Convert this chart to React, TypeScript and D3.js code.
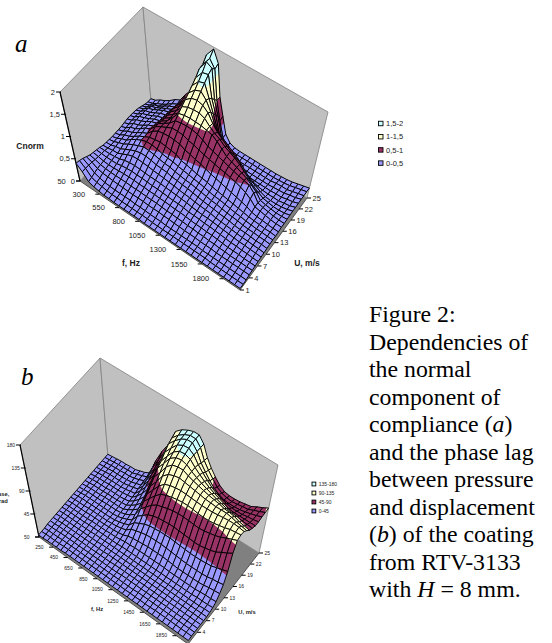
import * as d3 from "d3";
import React from "react";

// grid of both surfaces
const freqs = d3.range(50, 2000, 62.5);
const speeds = d3.range(1, 26);
const uTicks = [1, 4, 7, 10, 13, 16, 19, 22, 25];

// Cnorm x 100, one row per U (1..25), one value per f
const cnormRows = [
  [40,28,13,9,7,5,5,4,4,4,4,4,4,3,3,3,3,3,3,3,3,3,3,3,3,3,3,3,3,3,3,3],
  [38,28,15,11,9,7,6,6,5,5,5,5,5,5,4,4,4,4,4,4,4,4,4,4,4,3,3,3,3,3,3,3],
  [35,27,17,13,10,9,8,8,8,8,7,7,7,6,6,6,5,5,5,5,5,5,5,4,4,4,4,4,4,4,4,4],
  [31,26,19,16,15,14,13,13,12,12,12,12,11,11,11,10,10,9,9,8,8,8,7,7,7,6,6,6,6,6,6,6],
  [27,24,20,18,17,17,17,17,16,16,16,15,15,15,14,13,13,12,12,11,11,10,10,9,9,8,8,7,7,7,7,7],
  [25,23,20,19,19,20,21,21,21,20,20,19,19,18,18,17,16,16,15,14,13,13,12,12,11,10,9,9,9,8,8,8],
  [23,22,21,21,21,24,25,26,25,25,24,23,23,22,21,20,20,19,17,17,16,15,15,14,13,12,11,11,10,10,9,9],
  [21,21,21,22,24,28,30,31,30,29,28,28,27,26,25,24,23,22,20,19,18,18,17,16,15,14,13,12,12,11,11,10],
  [18,19,21,22,27,33,37,38,37,36,34,33,32,30,29,27,26,25,23,22,21,20,18,17,16,15,14,13,13,12,12,11],
  [17,18,22,24,30,36,41,44,44,42,39,38,37,34,33,31,30,28,26,24,23,22,20,19,18,16,15,15,14,13,13,12],
  [16,18,23,27,34,40,45,50,49,47,44,42,41,38,36,34,33,31,29,27,25,24,22,20,19,18,16,15,15,14,14,13],
  [15,18,24,28,37,44,50,54,54,52,48,46,45,42,40,38,36,34,32,29,27,26,24,22,20,19,17,16,15,15,14,14],
  [15,18,25,29,36,44,50,56,58,60,58,56,54,47,45,42,39,37,35,32,30,28,26,24,22,20,18,17,16,15,15,14],
  [15,19,26,30,37,44,50,62,70,72,73,72,70,64,61,57,54,50,46,43,40,37,34,31,28,25,20,18,17,16,15,15],
  [15,19,27,31,38,47,52,65,72,78,84,84,83,78,75,71,67,64,61,58,56,53,50,46,41,34,24,22,20,18,17,17],
  [16,20,28,32,38,46,51,64,72,80,93,95,96,95,92,86,79,75,71,67,63,59,56,53,50,40,25,22,20,18,17,17],
  [17,21,29,33,39,46,50,62,70,85,102,105,106,105,104,101,98,90,80,70,65,60,55,50,42,34,22,20,18,17,17,18],
  [17,21,29,33,38,44,48,61,69,79,110,116,118,118,113,102,93,87,78,72,66,59,50,40,31,25,19,17,15,15,16,19],
  [16,20,28,32,37,43,47,60,69,80,118,129,132,128,118,101,88,79,70,62,56,50,38,29,24,18,14,13,13,14,16,20],
  [15,19,27,30,36,42,46,60,70,84,126,140,145,132,112,88,72,68,60,53,45,33,25,18,15,13,12,12,12,14,16,20],
  [13,17,25,29,35,41,45,60,72,87,135,152,156,128,100,73,55,45,32,22,17,14,12,11,11,11,11,12,12,15,17,21],
  [10,14,22,26,32,38,43,59,72,90,145,165,168,120,90,56,37,27,17,13,11,10,10,10,10,10,11,12,13,16,18,22],
  [7,11,18,22,29,36,41,57,72,92,158,182,175,110,78,42,24,17,12,10,10,10,10,10,10,10,12,13,13,16,19,22],
  [5,8,14,19,26,34,40,58,74,95,160,182,165,100,60,28,15,11,10,10,10,10,10,10,10,10,11,12,14,17,20,23],
  [5,8,15,20,27,36,42,62,78,100,175,196,170,100,62,28,15,11,10,10,10,10,10,10,10,10,11,12,14,17,20,23],
];

// phase in degrees, same layout
const phaseRows = [
  [4,4,5,5,5,5,6,6,6,6,6,6,6,6,6,6,6,6,6,6,6,6,6,6,6,6,6,6,6,6,6,6],
  [4,5,5,5,5,6,6,6,6,6,6,6,6,6,6,6,6,6,6,6,6,6,6,6,7,7,7,7,7,7,7,7],
  [4,5,5,5,6,6,6,6,6,6,6,6,6,6,6,6,6,6,6,6,7,7,7,7,7,7,7,7,7,7,7,7],
  [5,5,5,6,6,6,6,6,6,6,6,6,6,6,6,6,7,7,7,7,7,7,7,7,7,7,7,7,7,7,7,7],
  [5,5,6,6,6,6,6,6,6,6,6,6,6,6,7,7,7,7,7,7,7,7,7,7,7,7,7,7,7,7,7,7],
  [5,5,6,6,6,6,6,6,6,6,6,6,7,7,7,7,7,7,7,7,7,7,7,7,7,7,7,7,7,7,7,7],
  [5,6,6,6,6,6,6,6,6,6,7,7,7,7,7,7,7,7,7,7,7,7,7,7,7,7,7,7,7,7,7,7],
  [5,6,6,6,6,6,6,6,7,7,7,7,7,7,7,7,7,7,7,7,7,7,7,7,7,7,7,7,7,7,8,8],
  [5,6,6,6,6,6,7,7,7,7,7,7,7,8,8,8,8,8,8,8,8,8,8,8,8,8,8,8,9,9,9,10],
  [5,6,6,6,6,6,7,7,7,7,8,8,9,11,11,12,12,12,12,12,12,12,11,11,11,11,11,11,12,13,13,14],
  [5,6,6,6,6,7,7,7,7,8,8,9,11,15,17,18,19,20,20,20,20,19,18,17,17,17,17,17,18,20,21,22],
  [5,6,6,6,7,7,7,7,7,8,9,11,14,22,25,28,30,31,31,31,30,29,28,27,26,26,26,26,27,29,30,32],
  [5,6,7,7,7,7,7,7,7,8,10,13,17,28,33,38,41,42,43,43,43,42,41,40,39,39,39,40,41,44,47,50],
  [5,6,7,7,7,7,7,7,7,8,11,15,20,34,42,50,54,56,57,58,58,57,56,55,54,54,56,58,61,67,72,78],
  [5,6,7,7,7,7,8,8,8,9,12,17,24,42,52,62,69,72,75,77,78,78,77,76,75,76,78,80,83,88,92,96],
  [5,6,7,7,7,8,8,8,8,9,14,20,28,50,62,74,84,88,91,93,94,94,93,91,90,90,91,93,95,98,99,100],
  [5,6,7,7,7,8,8,8,9,10,16,23,33,58,72,87,97,101,103,104,103,102,101,100,100,100,101,102,103,103,102,100],
  [5,6,7,7,7,8,8,8,9,11,18,27,39,67,82,100,110,114,116,114,112,110,108,106,105,104,104,104,102,99,97,95],
  [5,6,7,7,8,8,8,9,10,12,21,32,47,78,93,112,122,125,125,120,116,113,110,107,105,103,100,99,97,93,91,89],
  [5,6,7,7,8,8,8,9,11,13,24,38,55,89,105,122,130,132,129,122,116,111,107,103,99,96,93,91,90,88,87,86],
  [5,6,7,8,8,8,8,10,12,15,27,44,63,96,113,128,136,137,133,123,115,108,102,97,93,89,85,84,84,84,84,84],
  [5,6,7,8,8,8,9,10,13,16,31,50,72,107,122,135,141,142,135,122,112,103,95,89,85,82,80,80,80,82,83,85],
  [5,6,7,8,8,9,9,11,14,18,36,56,80,117,130,140,146,146,135,118,106,95,86,80,76,75,75,76,78,81,84,88],
  [5,6,7,8,8,9,9,12,15,19,43,65,88,122,134,142,147,147,136,116,103,92,82,76,73,72,73,75,76,81,85,90],
  [5,6,7,8,8,9,9,12,15,20,50,75,95,128,138,144,148,148,136,115,100,88,78,72,70,70,71,73,75,81,86,92],
];

const cnormBands = [0, 50, 100, 150, 200];
const cnormBandLabels = ["0-0,5", "0,5-1", "1-1,5", "1,5-2"];
const cnormTickLabels = ["0", "0,5", "1", "1,5", "2"];
const cnormFreqTicks = [50, 300, 550, 800, 1050, 1300, 1550, 1800];

const phaseBands = [0, 45, 90, 135, 180];
const phaseBandLabels = ["0-45", "45-90", "90-135", "135-180"];
const phaseTickLabels = ["", "45", "90", "135", "180"];
const phaseFreqTicks = [50, 250, 450, 650, 850, 1050, 1250, 1450, 1650, 1850];

const bandColors = ["#9999ff", "#993366", "#ffffcc", "#ccffff"];
const FONT = "'Liberation Sans', Arial, sans-serif";
const SERIF = "'Liberation Serif', 'Times New Roman', serif";

type Pt = [number, number];

// unit square -> quad, corners in order (0,0) (1,0) (1,1) (0,1)
const quadMap = (p00: Pt, p10: Pt, p11: Pt, p01: Pt) => {
  const dx1 = p10[0] - p11[0], dx2 = p01[0] - p11[0], sx = p00[0] - p10[0] + p11[0] - p01[0];
  const dy1 = p10[1] - p11[1], dy2 = p01[1] - p11[1], sy = p00[1] - p10[1] + p11[1] - p01[1];
  const den = dx1 * dy2 - dx2 * dy1;
  const g = (sx * dy2 - dx2 * sy) / den;
  const h = (dx1 * sy - sx * dy1) / den;
  const a = p10[0] - p00[0] + g * p10[0], b = p01[0] - p00[0] + h * p01[0];
  const d = p10[1] - p00[1] + g * p10[1], e = p01[1] - p00[1] + h * p01[1];
  return (u: number, v: number): Pt => {
    const w = g * u + h * v + 1;
    return [(a * u + b * v + p00[0]) / w, (d * u + e * v + p00[1]) / w];
  };
};

// keep the part of a cell polygon on one side of a z level
const clipZ = (poly: number[][], level: number, keepAbove: boolean) => {
  const out: number[][] = [];
  poly.forEach((p, i) => {
    const q = poly[(i + 1) % poly.length];
    const pIn = keepAbove ? p[2] >= level : p[2] <= level;
    const qIn = keepAbove ? q[2] >= level : q[2] <= level;
    if (pIn) out.push(p);
    if (pIn !== qIn) {
      const k = (level - p[2]) / (q[2] - p[2]);
      out.push([p[0] + k * (q[0] - p[0]), p[1] + k * (q[1] - p[1]), level]);
    }
  });
  return out;
};

const Surface = ({ rows, bands, bandLabels, zLabels, freqTicks, uLabelTicks, floor, top, fontSize, lineWidth, legend, tickLen }: any) => {
  const sx = d3.scaleLinear().domain(d3.extent(freqs) as number[]).range([0, 1]);
  const sy = d3.scaleLinear().domain(d3.extent(speeds) as number[]).range([0, 1]);
  const sz = d3.scaleLinear().domain([bands[0], bands[bands.length - 1]]).range([0, 1]);
  const floorMap = quadMap(floor[0], floor[1], floor[2], floor[3]);
  const topMap = quadMap(top[0], top[1], top[2], top[3]);

  const project = (f: number, u: number, z: number): Pt => {
    const a = floorMap(sx(f), sy(u));
    const b = topMap(sx(f), sy(u));
    const k = sz(z);
    return [a[0] + k * (b[0] - a[0]), a[1] + k * (b[1] - a[1])];
  };
  const line = d3.line().context(null);
  const closed = (pts: Pt[]) => line(pts) + "Z";
  const toPath = (poly: number[][]) => closed(poly.map(p => project(p[0], p[1], p[2])));

  // far corner first so near cells paint over it
  const cells: any[] = [];
  for (let i = speeds.length - 2; i >= 0; i--) {
    for (let j = 0; j < freqs.length - 1; j++) {
      const poly = [
        [freqs[j], speeds[i], rows[i][j]],
        [freqs[j + 1], speeds[i], rows[i][j + 1]],
        [freqs[j + 1], speeds[i + 1], rows[i + 1][j + 1]],
        [freqs[j], speeds[i + 1], rows[i + 1][j]],
      ];
      const parts = bandColors.map((color, b) => {
        const clipped = clipZ(clipZ(poly, bands[b], true), bands[b + 1], false);
        return clipped.length > 2 ? <path key={b} d={toPath(clipped)} fill={color} stroke={color} strokeWidth={0.3} /> : null;
      });
      cells.push(
        <g key={`${i}-${j}`}>
          {parts}
          <path d={toPath(poly)} fill="none" stroke="#000" strokeWidth={lineWidth} />
        </g>
      );
    }
  }

  const walls = "#c0c0c0", edge = "#808080";
  const fMin = freqs[0], fMax = freqs[freqs.length - 1];
  const uMin = speeds[0];

  return (
    <g fontFamily={FONT} fontSize={fontSize} fill="#222">
      <path d={closed([top[0], top[3], floor[3], floor[0]])} fill={walls} stroke={edge} strokeWidth={0.8} />
      <path d={closed([top[3], top[2], floor[2], floor[3]])} fill={walls} stroke={edge} strokeWidth={0.8} />
      <path d={closed([floor[0], floor[1], floor[2], floor[3]])} fill={edge} />
      {bands.map((b: number, i: number) => {
        const p = project(fMin, uMin, b);
        return (
          <g key={b}>
            <line x1={p[0] - tickLen} x2={p[0] + 1} y1={p[1]} y2={p[1]} stroke="#000" />
            <text x={p[0] - tickLen - 1} y={p[1] + fontSize * 0.35} textAnchor="end">{zLabels[i]}</text>
          </g>
        );
      })}
      <line x1={floor[0][0]} y1={floor[0][1]} x2={top[0][0]} y2={top[0][1]} stroke="#000" strokeWidth={1.2} />
      {cells}
      <line x1={floor[0][0]} y1={floor[0][1]} x2={floor[1][0]} y2={floor[1][1]} stroke="#444" strokeWidth={0.9} />
      <line x1={floor[1][0]} y1={floor[1][1]} x2={floor[2][0]} y2={floor[2][1]} stroke="#444" strokeWidth={0.9} />
      {freqTicks.map((f: number) => {
        const p = project(f, uMin, 0);
        return (
          <g key={f}>
            <line x1={p[0] - tickLen} x2={p[0]} y1={p[1]} y2={p[1]} stroke="#000" />
            <text x={p[0] - fontSize * 1.9} y={p[1] + fontSize * 0.35} textAnchor="end">{f}</text>
          </g>
        );
      })}
      {uTicks.map((u: number) => {
        const p = project(fMax, u, 0);
        return <line key={u} x1={p[0]} x2={p[0] + tickLen} y1={p[1]} y2={p[1]} stroke="#000" />;
      })}
      {uLabelTicks.map((u: number) => {
        const p = project(fMax, u, 0);
        return <text key={u} x={p[0] + tickLen + 1.5} y={p[1] + fontSize * 0.35}>{u}</text>;
      })}
      {bandLabels.map((label: string, i: number) => {
        const n = bandLabels.length - 1 - i;
        const y = legend.y + n * legend.step;
        return (
          <g key={label}>
            <rect x={legend.x} y={y - legend.size / 2} width={legend.size} height={legend.size} fill={bandColors[i]} stroke="#000" strokeWidth={0.9} />
            <text x={legend.x + legend.size + 3} y={y + fontSize * 0.35}>{label}</text>
          </g>
        );
      })}
    </g>
  );
};

const captionLines: React.ReactNode[] = [
  "Figure 2:",
  "Dependencies of",
  "the normal",
  "component of",
  <>compliance (<tspan fontStyle="italic">a</tspan>)</>,
  "and the phase lag",
  "between pressure",
  "and displacement",
  <>(<tspan fontStyle="italic">b</tspan>) of the coating</>,
  "from RTV-3133",
  <>with <tspan fontStyle="italic">H</tspan> = 8 mm.</>,
];
const captionScale = d3.scaleLinear().domain([0, 10]).range([322, 597]);

export default function App() {
  return (
    <svg width={552} height={643} viewBox="0 0 552 643" style={{ position: "absolute", left: 0, top: 0, display: "block" }}>
      <rect width={552} height={643} fill="#fff" />
      <Surface
        rows={cnormRows}
        bands={cnormBands}
        bandLabels={cnormBandLabels}
        zLabels={cnormTickLabels}
        freqTicks={cnormFreqTicks}
        uLabelTicks={uTicks}
        floor={[[80, 181], [240, 290], [307, 198], [151, 101]]}
        top={[[60, 92], [252, 186], [328, 112], [143, 7]]}
        fontSize={7.5}
        lineWidth={1}
        tickLen={4}
        legend={{ x: 378.5, y: 123.5, step: 13.2, size: 4.5 }}
      />
      <Surface
        rows={phaseRows}
        bands={phaseBands}
        bandLabels={phaseBandLabels}
        zLabels={phaseTickLabels}
        freqTicks={phaseFreqTicks}
        uLabelTicks={uTicks.slice(1)}
        floor={[[39, 537], [188, 644], [259, 553], [108, 457]]}
        top={[[20, 445], [198, 540], [278, 465], [100, 358]]}
        fontSize={5}
        lineWidth={0.95}
        tickLen={4}
        legend={{ x: 312, y: 484, step: 9, size: 3.8 }}
      />
      <g fontFamily={FONT} fontWeight="bold" fontSize={8.5} fill="#222" textAnchor="middle">
        <text x={30} y={149}>Cnorm</text>
        <text x={131} y={266}>f, Hz</text>
        <text x={307} y={266}>U, m/s</text>
      </g>
      <g fontFamily={FONT} fontWeight="bold" fontSize={5.8} fill="#222" textAnchor="middle">
        <text x={0} y={496}>Phase,</text>
        <text x={1.5} y={503}>grad</text>
        <text x={97} y={611}>f, Hz</text>
        <text x={247} y={614}>U, m/s</text>
      </g>
      <g fontFamily={SERIF} fontStyle="italic" fontSize={25} fill="#000">
        <text x={15} y={52}>a</text>
        <text x={21} y={385}>b</text>
      </g>
      <g fontFamily={SERIF} fontSize={23.8} fill="#000">
        {captionLines.map((t, i) => (
          <text key={i} x={369} y={captionScale(i)}>{t}</text>
        ))}
      </g>
    </svg>
  );
}
